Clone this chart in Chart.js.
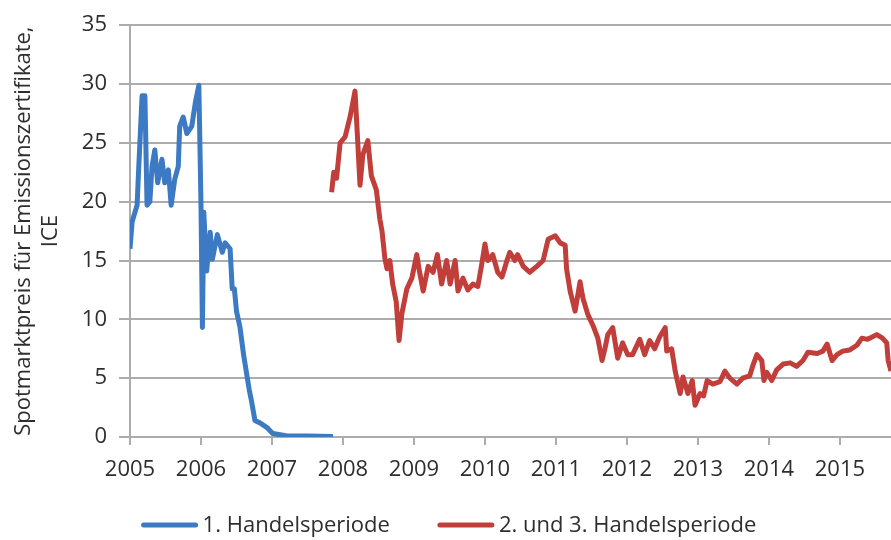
<!DOCTYPE html>
<html>
<head>
<meta charset="utf-8">
<script src="https://cdn.jsdelivr.net/npm/chart.js@4.4.0/dist/chart.umd.min.js"></script>
<style>
  html, body { margin: 0; padding: 0; background: #fff; }
  #wrap { width: 891px; height: 540px; }
</style>
</head>
<body>
<div id="wrap"><canvas id="chart" width="891" height="540"></canvas></div>
<script>
// tick labels
const yearTicks = [2005, 2006, 2007, 2008, 2009, 2010, 2011, 2012, 2013, 2014, 2015];
const priceTicks = [0, 5, 10, 15, 20, 25, 30, 35];
const seriesNames = ['1. Handelsperiode', '2. und 3. Handelsperiode'];

// 1. Handelsperiode (decimal years)
const p1Dates = [2005.00, 2005.03, 2005.07, 2005.10, 2005.12, 2005.17, 2005.21, 2005.24, 2005.28, 2005.31,
  2005.35, 2005.39, 2005.45, 2005.49, 2005.54, 2005.58, 2005.63, 2005.68, 2005.70, 2005.75,
  2005.80, 2005.87, 2005.92, 2005.97, 2006.00, 2006.02, 2006.04, 2006.08, 2006.13, 2006.16,
  2006.23, 2006.30, 2006.34, 2006.41, 2006.44, 2006.47, 2006.50, 2006.55, 2006.60, 2006.64,
  2006.68, 2006.71, 2006.76, 2006.83, 2006.93, 2007.01, 2007.20, 2007.50, 2007.86];
const p1Prices = [16.0, 18.3, 19.1, 19.7, 22.5, 29.0, 29.0, 19.7, 20.0, 23.0,
  24.4, 21.6, 23.6, 21.6, 22.7, 19.7, 21.9, 23.0, 26.4, 27.2,
  25.8, 26.4, 28.4, 29.9, 19.7, 9.3, 19.1, 14.1, 17.4, 15.1,
  17.2, 15.7, 16.5, 16.0, 12.6, 12.6, 10.7, 9.3, 7.0, 5.5,
  4.0, 3.1, 1.4, 1.2, 0.8, 0.3, 0.1, 0.08, 0.05];

// 2. und 3. Handelsperiode
const p2Dates = [2007.84, 2007.87, 2007.91, 2007.96, 2008.03, 2008.10, 2008.17, 2008.20, 2008.24, 2008.28,
  2008.35, 2008.40, 2008.47, 2008.52, 2008.55, 2008.59, 2008.62, 2008.66, 2008.70, 2008.75,
  2008.79, 2008.83, 2008.90, 2008.97, 2009.04, 2009.08, 2009.13, 2009.20, 2009.27, 2009.33,
  2009.39, 2009.46, 2009.51, 2009.58, 2009.62, 2009.69, 2009.76, 2009.83, 2009.90, 2009.95,
  2010.00, 2010.04, 2010.11, 2010.18, 2010.24, 2010.31, 2010.35, 2010.42, 2010.46, 2010.54,
  2010.63, 2010.73, 2010.82, 2010.89, 2010.99, 2011.06, 2011.13, 2011.15, 2011.20, 2011.27,
  2011.34, 2011.38, 2011.45, 2011.52, 2011.59, 2011.65, 2011.69, 2011.73, 2011.80, 2011.87,
  2011.94, 2012.01, 2012.08, 2012.18, 2012.25, 2012.32, 2012.39, 2012.46, 2012.54, 2012.56,
  2012.63, 2012.68, 2012.75, 2012.79, 2012.86, 2012.92, 2012.96, 2013.03, 2013.08, 2013.13,
  2013.21, 2013.31, 2013.38, 2013.45, 2013.55, 2013.63, 2013.73, 2013.77, 2013.83, 2013.90,
  2013.93, 2013.97, 2014.04, 2014.11, 2014.20, 2014.30, 2014.39, 2014.48, 2014.55, 2014.68,
  2014.76, 2014.82, 2014.89, 2014.96, 2015.04, 2015.14, 2015.24, 2015.31, 2015.39, 2015.52,
  2015.60, 2015.66, 2015.68, 2015.72];
const p2Prices = [20.8, 22.5, 22.0, 25.0, 25.5, 27.2, 29.4, 26.0, 21.4, 24.0,
  25.2, 22.2, 21.0, 18.5, 17.5, 15.2, 14.3, 15.0, 13.0, 11.5,
  8.2, 10.5, 12.6, 13.5, 15.5, 14.0, 12.4, 14.5, 14.0, 15.5,
  13.0, 15.0, 13.0, 15.0, 12.4, 13.5, 12.5, 13.0, 12.8, 14.5,
  16.4, 15.0, 15.5, 14.0, 13.6, 15.0, 15.7, 15.0, 15.5, 14.5,
  14.0, 14.5, 15.0, 16.8, 17.1, 16.5, 16.3, 14.3, 12.4, 10.7,
  13.2, 11.8, 10.4, 9.5, 8.4, 6.5, 7.5, 8.7, 9.3, 6.7,
  8.0, 7.0, 7.0, 8.3, 7.0, 8.2, 7.5, 8.5, 9.3, 7.3,
  7.5, 5.6, 3.7, 5.1, 3.7, 4.8, 2.7, 3.7, 3.5, 4.8,
  4.5, 4.7, 5.6, 5.0, 4.5, 5.0, 5.2, 6.0, 7.0, 6.5,
  4.8, 5.5, 4.8, 5.7, 6.2, 6.3, 6.0, 6.5, 7.2, 7.1,
  7.3, 7.9, 6.5, 7.0, 7.3, 7.4, 7.8, 8.4, 8.3, 8.7,
  8.4, 8.0, 6.5, 5.6];

const BLUE = 'rgb(60,122,196)';
const RED = 'rgb(194,62,58)';
const GRID = '#acacac';
const TEXT = '#2e2e2e';
const FONT = '"Open Sans", "DejaVu Sans", sans-serif';

function toPoints(xs, ys) {
  return xs.map((x, i) => ({ x: x, y: ys[i] }));
}

// legend drawn under the plot, items spaced like the original
const bottomLegend = {
  id: 'bottomLegend',
  afterDraw(chart) {
    const ctx = chart.ctx;
    const lineW = 56, gap = 5, itemGap = 48, y = 525;
    ctx.save();
    ctx.font = '22px ' + FONT;
    ctx.textBaseline = 'middle';
    const items = chart.data.datasets.map(d => ({
      text: d.label, color: d.borderColor, w: ctx.measureText(d.label).width
    }));
    const total = items.reduce((s, it) => s + lineW + gap + it.w, 0) + itemGap * (items.length - 1);
    let x = 449 - total / 2;
    items.forEach(it => {
      ctx.strokeStyle = it.color;
      ctx.lineWidth = 5;
      ctx.lineCap = 'round';
      ctx.beginPath();
      ctx.moveTo(x + 2, y);
      ctx.lineTo(x + lineW - 2, y);
      ctx.stroke();
      x += lineW + gap;
      ctx.fillStyle = TEXT;
      ctx.fillText(it.text, x, y + 1);
      x += it.w + itemGap;
    });
    ctx.restore();
  }
};

function draw() {
  new Chart(document.getElementById('chart'), {
    type: 'line',
    data: {
      datasets: [
        {
          label: seriesNames[0],
          data: toPoints(p1Dates, p1Prices),
          borderColor: BLUE,
          backgroundColor: BLUE,
          borderWidth: 5,
          borderJoinStyle: 'round',
          pointRadius: 0,
          tension: 0
        },
        {
          label: seriesNames[1],
          data: toPoints(p2Dates, p2Prices),
          borderColor: RED,
          backgroundColor: RED,
          borderWidth: 5,
          borderJoinStyle: 'round',
          pointRadius: 0,
          tension: 0
        }
      ]
    },
    options: {
      responsive: false,
      animation: false,
      layout: { padding: { top: 21, left: 0, right: 0, bottom: 0 } },
      plugins: {
        legend: { display: false },
        tooltip: { enabled: false }
      },
      scales: {
        x: {
          type: 'linear',
          min: 2005,
          max: 2015.72,
          afterBuildTicks: (scale) => { scale.ticks = yearTicks.map(v => ({ value: v })); },
          afterFit: (scale) => { scale.height = 103; },
          grid: { drawOnChartArea: false, drawTicks: true, tickLength: 8, color: GRID, lineWidth: 2 },
          border: { display: true, color: GRID, width: 2 },
          ticks: {
            padding: 12,
            color: TEXT,
            font: { size: 22, family: FONT },
            maxRotation: 0,
            callback: (v) => String(v)
          }
        },
        y: {
          min: 0,
          max: 35,
          afterBuildTicks: (scale) => { scale.ticks = priceTicks.map(v => ({ value: v })); },
          afterFit: (scale) => { scale.width = 130; },
          grid: { color: GRID, lineWidth: 2, tickLength: 11 },
          border: { display: true, color: GRID, width: 2 },
          ticks: {
            padding: 12,
            color: TEXT,
            font: { size: 22, family: FONT }
          },
          title: {
            display: true,
            text: ['Spotmarktpreis für Emissionszertifikate,', 'ICE'],
            color: TEXT,
            font: { size: 22, family: FONT, lineHeight: 1.2 },
            padding: { top: 11, bottom: 0 }
          }
        }
      }
    },
    plugins: [bottomLegend]
  });
}

if (document.fonts && document.fonts.load) {
  document.fonts.load('22px "Open Sans"').then(draw, draw);
} else {
  draw();
}
</script>
</body>
</html>
